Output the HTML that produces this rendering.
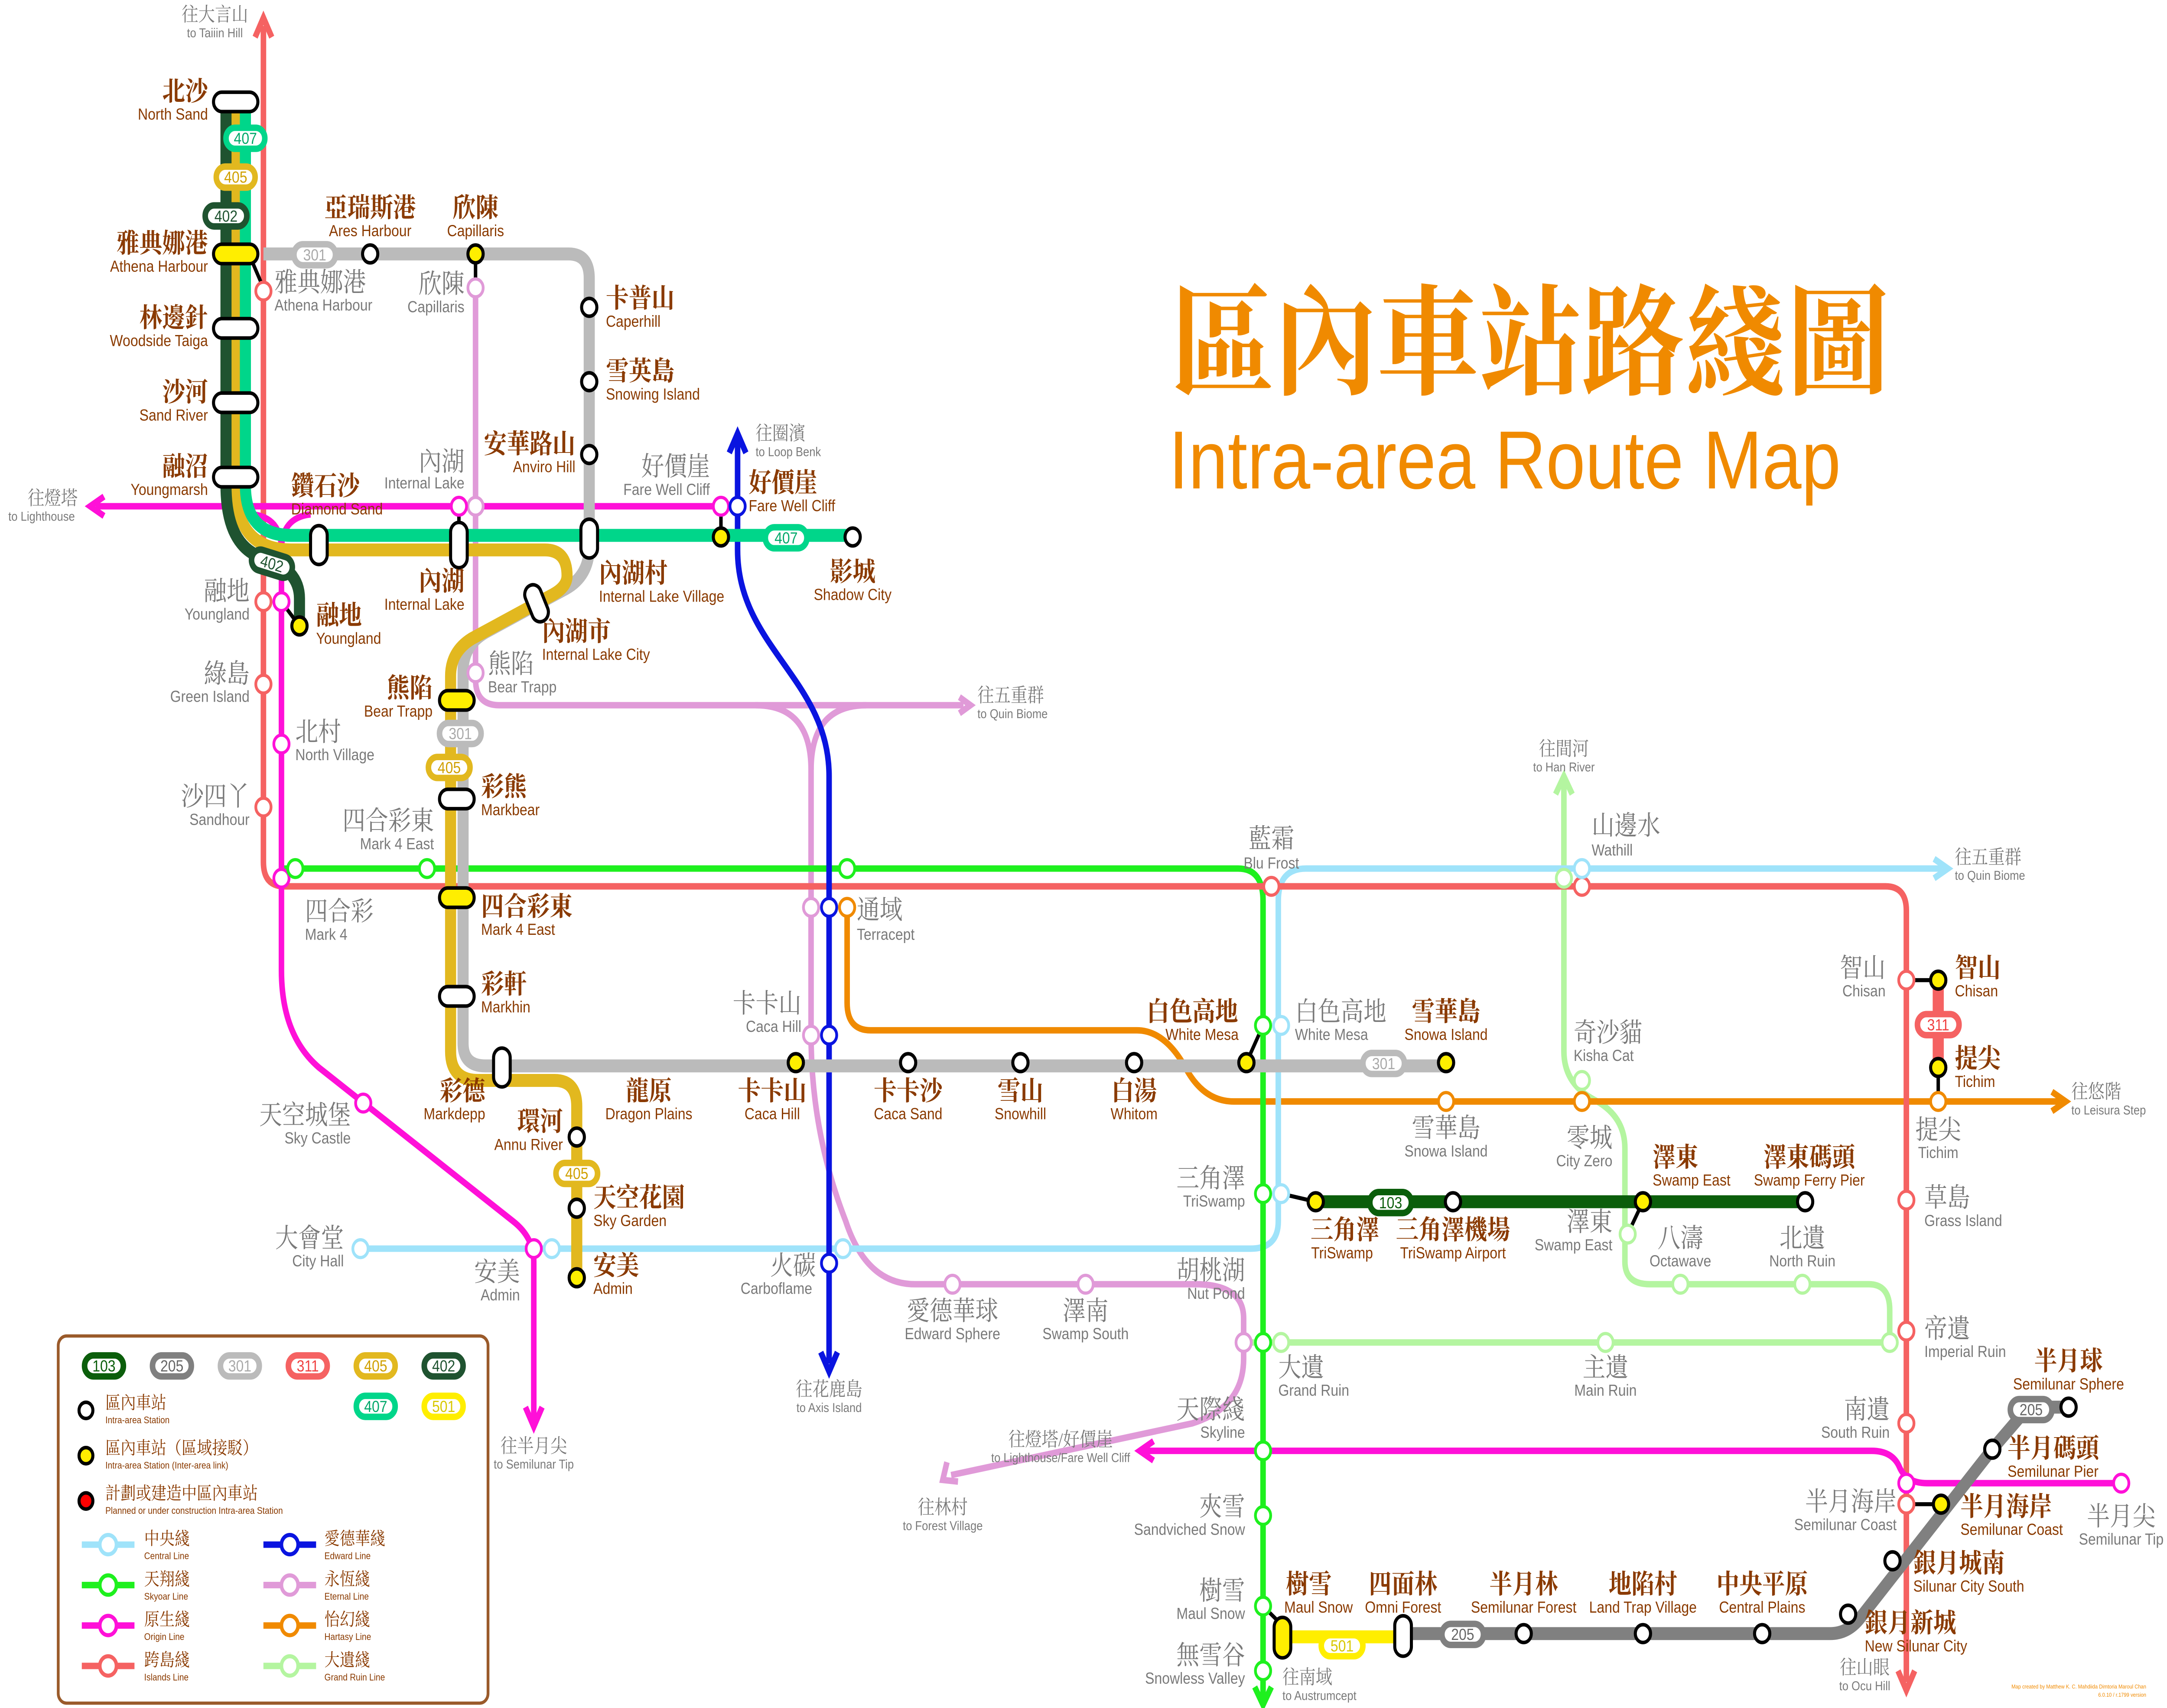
<!DOCTYPE html>
<html><head><meta charset="utf-8"><style>
html,body{margin:0;padding:0;background:#fff;width:100%;height:100%;overflow:hidden}
svg{display:block;position:absolute;left:0;top:0;width:100vw;height:100vh}
.bc{font-family:"Liberation Serif","Noto Serif CJK SC",serif;font-size:16.5px;font-weight:bold;fill:#8a3a00}
.be{font-family:"Liberation Sans",sans-serif;font-size:10px;fill:#8a3a00}
.gc{font-family:"Liberation Serif","Noto Serif CJK SC",serif;font-size:16.5px;fill:#7a7a7a}
.ge{font-family:"Liberation Sans",sans-serif;font-size:10px;fill:#7a7a7a}
.ac{font-family:"Liberation Serif","Noto Serif CJK SC",serif;font-size:12px;fill:#7a7a7a}
.ae{font-family:"Liberation Sans",sans-serif;font-size:8px;fill:#7a7a7a}
.lc{font-family:"Liberation Serif","Noto Serif CJK SC",serif;font-size:11px;fill:#8a3a00}
.le{font-family:"Liberation Sans",sans-serif;font-size:6px;fill:#8a3a00}
.bt{font-family:"Liberation Sans",sans-serif;font-size:10px;text-anchor:middle}
.s{fill:#fff;stroke:#000;stroke-width:2.2}
.y{fill:#ffee00;stroke:#000;stroke-width:2.2}
.p{fill:#fff;stroke:#000;stroke-width:2.2}
.py{fill:#ffee00;stroke:#000;stroke-width:2.2}
.m{text-anchor:middle}.r{text-anchor:end}
path,line{fill:none;stroke-linecap:butt}
</style></head><body>
<svg viewBox="0 0 1563 1056" preserveAspectRatio="none" xmlns="http://www.w3.org/2000/svg">
<rect width="1563" height="1056" fill="#fff"/>

<text x="845" y="238" style="font-family:'Noto Serif CJK SC',serif;font-size:74px;font-weight:bold;fill:#f08a00">區內車站路綫圖</text>
<text x="843" y="302" style="font-family:'Liberation Sans',sans-serif;font-size:51px;fill:#f08a00">Intra-area Route Map</text>

<g stroke-width="4">
<path stroke="#e09ad8" d="M343,178 V420 Q343,436 360,436 H695"/>
<path stroke="#e09ad8" d="M692,431 L700,436 L692,441"/>
<path stroke="#e09ad8" d="M545,436 Q585,436 585,476 V640 Q585,700 610,755 Q625,794 660,794 H862 Q897,794 897,815 V840 Q897,870 860,880 L686,912"/>
<path stroke="#e09ad8" d="M625,436 Q585,436 585,476"/>
<path stroke="#e09ad8" d="M683,904 L680,915 L691,916"/>
<path stroke="#b4f5a0" d="M1128,484 V650 Q1128,670 1150,680 Q1172,690 1172,710 V780 Q1172,794 1190,794 H1348 Q1363,794 1363,810 V830"/>
<path stroke="#b4f5a0" d="M1122,491 L1128,480 L1134,491"/>
<path stroke="#b4f5a0" d="M897,830 H1363"/>
<path stroke="#f08a00" d="M611,561 V620 Q611,637 628,637 H820 Q840,637 855,660 Q868,681 890,681 H1486"/>
<path stroke="#f08a00" d="M1480,675 L1490,681 L1480,687"/>
<path stroke="#9fe3fa" d="M260,772 H902 Q922,772 922,755 V557 Q922,537 942,537 H1401"/>
<path stroke="#9fe3fa" d="M1395,531 L1405,537 L1395,543"/>
<path stroke="#1ef01e" d="M203,537 H893 Q911,537 911,557 V1050"/>
<path stroke="#1ef01e" d="M905,1043 L911,1054 L917,1043"/>
<path stroke="#f56262" d="M190,16 V533 Q190,548 205,548 H1360 Q1375,548 1375,563 V1040"/>
<path stroke="#f56262" d="M184,23 L190,11 L196,23"/>
<path stroke="#f56262" d="M1369,1033 L1375,1045 L1381,1033"/>
<path stroke="#0a14e0" d="M532,272 V340 C532,400 598,420 598,480 V843"/>
<path stroke="#0a14e0" d="M526,280 L532,268 L538,280"/>
<path stroke="#0a14e0" d="M592,836 L598,848 L604,836"/>
<path stroke="#ff10d8" d="M69,313 H520"/>
<path stroke="#ff10d8" d="M75,307 L65,313 L75,319"/>
<path stroke="#ff10d8" d="M182,318 Q203,320 203,340 M224,318 Q203,320 203,340"/>
<path stroke="#ff10d8" d="M203,340 V600 Q203,640 230,660 L370,755 Q385,765 385,780 V878"/>
<path stroke="#ff10d8" d="M379,870 L385,882 L391,870"/>
<path stroke="#ff10d8" d="M824,897 H1350 Q1365,897 1370,907 Q1375,917 1390,917 H1530"/>
<path stroke="#ff10d8" d="M832,891 L822,897 L832,903"/>
</g>

<g stroke-width="8">
<path stroke="#bbbbbb" d="M190,157 H410 Q425,157 425,172 V338 Q425,356 408,364 L350,391 Q334,399 334,415 V645 Q334,659 350,659 H1043"/>
<path stroke="#e2b81f" d="M170,63 V300 Q170,340 210,340 H393 Q409,340 409,356 Q409,363 398,368 L340,395 Q325,403 325,418 V650 Q325,668 345,668 H400 Q416,668 416,684 V790"/>
<path stroke="#1f5330" d="M163,63 V300 Q163,338 190,345 Q216,352 216,370 V387"/>
<path stroke="#00d68a" d="M177,63 V300 Q177,331 210,331 H615"/>
<path stroke="#0b5e0b" d="M949,743 H1302"/>
<path stroke="#808080" d="M1012,1010 H1320 Q1333,1010 1342,1000 L1437,896 L1460,873 Q1465,870 1472,870 H1492"/>
<path stroke="#ffee00" d="M925,1012 H1012"/>
<path stroke="#f56262" d="M1398,606 V660"/>
</g>
<g stroke="#000" stroke-width="2.5">
<line x1="182" y1="162" x2="190" y2="178"/>
<line x1="343" y1="157" x2="343" y2="178"/>
<line x1="331" y1="313" x2="331" y2="337"/>
<line x1="520" y1="313" x2="520" y2="332"/>
<line x1="203" y1="372" x2="216" y2="387"/>
<line x1="899" y1="657" x2="911" y2="634"/>
<line x1="1398" y1="660" x2="1398" y2="681"/>
<line x1="1375" y1="606" x2="1398" y2="606"/>
<line x1="1375" y1="930" x2="1400" y2="930"/>
<line x1="924" y1="738" x2="949" y2="743"/>
<line x1="1174" y1="763" x2="1185" y2="743"/>
<line x1="911" y1="993" x2="925" y2="1005"/>
</g>

<rect class="p" x="154" y="57" width="32" height="12" rx="6"/>
<rect class="py" x="154" y="151" width="32" height="12" rx="6"/>
<rect class="p" x="154" y="197" width="32" height="12" rx="6"/>
<rect class="p" x="154" y="243" width="32" height="12" rx="6"/>
<rect class="p" x="154" y="289" width="32" height="12" rx="6"/>
<rect class="p" x="224" y="325" width="12" height="24" rx="6"/>
<rect class="p" x="325" y="323" width="12" height="28" rx="6"/>
<rect class="p" x="419" y="321" width="12" height="24" rx="6"/>
<rect class="p" x="381" y="361" width="12" height="24" rx="6" transform="rotate(-25 387 373)"/>
<rect class="py" x="317" y="427" width="25" height="12" rx="6"/>
<rect class="p" x="317" y="488" width="25" height="12" rx="6"/>
<rect class="py" x="317" y="549" width="25" height="12" rx="6"/>
<rect class="p" x="317" y="610" width="25" height="12" rx="6"/>
<rect class="p" x="356" y="648" width="12" height="24" rx="6"/>
<rect class="p" x="1006" y="999" width="12" height="25" rx="6"/>
<rect class="py" x="919" y="1000" width="12" height="25" rx="6"/>

<g>
<rect x="163" y="79" width="28" height="13" rx="6.5" fill="#fff" stroke="#00d68a" stroke-width="4"/><text class="bt" x="177" y="89" fill="#00a86a">407</text>
<rect x="156" y="103" width="28" height="13" rx="6.5" fill="#fff" stroke="#e2b81f" stroke-width="4"/><text class="bt" x="170" y="113" fill="#d0a000">405</text>
<rect x="148" y="127" width="30" height="13" rx="6.5" fill="#fff" stroke="#1f5330" stroke-width="4"/><text class="bt" x="163" y="137" fill="#1f5330">402</text>
<rect x="212" y="151" width="30" height="13" rx="6.5" fill="#fff" stroke="#bbb" stroke-width="4"/><text class="bt" x="227" y="161" fill="#aaa">301</text>
<g transform="rotate(15 196 349)"><rect x="181" y="342" width="30" height="13" rx="6.5" fill="#fff" stroke="#1f5330" stroke-width="4"/><text class="bt" x="196" y="352" fill="#1f5330">402</text></g>
<rect x="552" y="326" width="30" height="13" rx="6.5" fill="#fff" stroke="#00d68a" stroke-width="4"/><text class="bt" x="567" y="336" fill="#00a86a">407</text>
<rect x="317" y="447" width="30" height="13" rx="6.5" fill="#fff" stroke="#bbb" stroke-width="4"/><text class="bt" x="332" y="457" fill="#aaa">301</text>
<rect x="309" y="468" width="30" height="13" rx="6.5" fill="#fff" stroke="#e2b81f" stroke-width="4"/><text class="bt" x="324" y="478" fill="#d0a000">405</text>
<rect x="401" y="719" width="30" height="13" rx="6.5" fill="#fff" stroke="#e2b81f" stroke-width="4"/><text class="bt" x="416" y="729" fill="#d0a000">405</text>
<rect x="983" y="651" width="30" height="13" rx="6.5" fill="#fff" stroke="#bbb" stroke-width="4"/><text class="bt" x="998" y="661" fill="#aaa">301</text>
<rect x="988" y="737" width="30" height="13" rx="6.5" fill="#fff" stroke="#0b5e0b" stroke-width="4"/><text class="bt" x="1003" y="747" fill="#0b5e0b">103</text>
<rect x="1383" y="627" width="30" height="13" rx="6.5" fill="#fff" stroke="#f56262" stroke-width="4"/><text class="bt" x="1398" y="637" fill="#f04040">311</text>
<rect x="1450" y="865" width="30" height="13" rx="6.5" fill="#fff" stroke="#808080" stroke-width="4"/><text class="bt" x="1465" y="875" fill="#666">205</text>
<rect x="1040" y="1004" width="30" height="13" rx="6.5" fill="#fff" stroke="#808080" stroke-width="4"/><text class="bt" x="1055" y="1014" fill="#666">205</text>
<rect x="953" y="1011" width="30" height="13" rx="6.5" fill="#fff" stroke="#ffee00" stroke-width="4"/><text class="bt" x="968" y="1021" fill="#d8c800">501</text>
</g>

<g>
<circle class="s" cx="267" cy="157" r="5.5"/><circle class="y" cx="343" cy="157" r="5.5"/>
<circle class="s" cx="425" cy="190" r="5.5"/><circle class="s" cx="425" cy="236" r="5.5"/><circle class="s" cx="425" cy="281" r="5.5"/>
<circle class="y" cx="520" cy="332" r="5.5"/><circle class="s" cx="615" cy="332" r="5.5"/>
<circle class="y" cx="216" cy="387" r="5.5"/>
<circle class="s" cx="416" cy="703" r="5.5"/><circle class="s" cx="416" cy="747" r="5.5"/><circle class="y" cx="416" cy="790" r="5.5"/>
<circle class="y" cx="574" cy="657" r="5.5"/><circle class="s" cx="655" cy="657" r="5.5"/><circle class="s" cx="736" cy="657" r="5.5"/><circle class="s" cx="818" cy="657" r="5.5"/>
<circle class="y" cx="899" cy="657" r="5.5"/><circle class="y" cx="1043" cy="657" r="5.5"/>
<circle class="y" cx="949" cy="743" r="5.5"/><circle class="s" cx="1048" cy="743" r="5.5"/><circle class="y" cx="1185" cy="743" r="5.5"/><circle class="s" cx="1302" cy="743" r="5.5"/>
<circle class="y" cx="1398" cy="606" r="5.5"/><circle class="y" cx="1398" cy="660" r="5.5"/>
<circle class="s" cx="1492" cy="870" r="5.5"/><circle class="s" cx="1437" cy="896" r="5.5"/><circle class="y" cx="1400" cy="930" r="5.5"/>
<circle class="s" cx="1365" cy="965" r="5.5"/><circle class="s" cx="1333" cy="998" r="5.5"/>
<circle class="s" cx="1099" cy="1010" r="5.5"/><circle class="s" cx="1185" cy="1010" r="5.5"/><circle class="s" cx="1271" cy="1010" r="5.5"/>
</g>
<g fill="#fff" stroke-width="2">
<g stroke="#f56262"><circle cx="190" cy="180" r="5.5"/><circle cx="190" cy="372" r="5.5"/><circle cx="190" cy="423" r="5.5"/><circle cx="190" cy="499" r="5.5"/><circle cx="917" cy="548" r="5.5"/><circle cx="1141" cy="548" r="5.5"/><circle cx="1375" cy="606" r="5.5"/><circle cx="1375" cy="742" r="5.5"/><circle cx="1375" cy="823" r="5.5"/><circle cx="1375" cy="880" r="5.5"/><circle cx="1375" cy="930" r="5.5"/></g>
<g stroke="#e09ad8"><circle cx="343" cy="178" r="5.5"/><circle cx="343" cy="313" r="5.5"/><circle cx="343" cy="416" r="5.5"/><circle cx="585" cy="561" r="5.5"/><circle cx="585" cy="640" r="5.5"/><circle cx="687" cy="794" r="5.5"/><circle cx="783" cy="794" r="5.5"/><circle cx="897" cy="830" r="5.5"/></g>
<g stroke="#ff10d8"><circle cx="331" cy="313" r="5.5"/><circle cx="520" cy="313" r="5.5"/><circle cx="203" cy="372" r="5.5"/><circle cx="203" cy="460" r="5.5"/><circle cx="203" cy="543" r="5.5"/><circle cx="262" cy="682" r="5.5"/><circle cx="385" cy="772" r="5.5"/><circle cx="1375" cy="917" r="5.5"/><circle cx="1530" cy="917" r="5.5"/></g>
<g stroke="#0a14e0"><circle cx="532" cy="313" r="5.5"/><circle cx="598" cy="561" r="5.5"/><circle cx="598" cy="640" r="5.5"/><circle cx="598" cy="781" r="5.5"/></g>
<g stroke="#1ef01e"><circle cx="213" cy="537" r="5.5"/><circle cx="308" cy="537" r="5.5"/><circle cx="611" cy="537" r="5.5"/><circle cx="911" cy="634" r="5.5"/><circle cx="911" cy="738" r="5.5"/><circle cx="911" cy="830" r="5.5"/><circle cx="911" cy="897" r="5.5"/><circle cx="911" cy="937" r="5.5"/><circle cx="911" cy="993" r="5.5"/><circle cx="911" cy="1033" r="5.5"/></g>
<g stroke="#f08a00"><circle cx="611" cy="561" r="5.5"/><circle cx="1043" cy="681" r="5.5"/><circle cx="1141" cy="681" r="5.5"/><circle cx="1398" cy="681" r="5.5"/></g>
<g stroke="#9fe3fa"><circle cx="260" cy="772" r="5.5"/><circle cx="398" cy="772" r="5.5"/><circle cx="608" cy="772" r="5.5"/><circle cx="924" cy="634" r="5.5"/><circle cx="924" cy="738" r="5.5"/><circle cx="1141" cy="537" r="5.5"/></g>
<g stroke="#b4f5a0"><circle cx="1128" cy="543" r="5.5"/><circle cx="1141" cy="668" r="5.5"/><circle cx="1174" cy="763" r="5.5"/><circle cx="1212" cy="794" r="5.5"/><circle cx="1300" cy="794" r="5.5"/><circle cx="924" cy="830" r="5.5"/><circle cx="1158" cy="830" r="5.5"/><circle cx="1363" cy="830" r="5.5"/></g>
</g>

<g>
<text class="bc r" x="150" y="62">北沙</text><text class="be r" x="150" y="74">North Sand</text>
<text class="bc r" x="150" y="156">雅典娜港</text><text class="be r" x="150" y="168">Athena Harbour</text>
<text class="bc r" x="150" y="202">林邊針</text><text class="be r" x="150" y="214">Woodside Taiga</text>
<text class="bc r" x="150" y="248">沙河</text><text class="be r" x="150" y="260">Sand River</text>
<text class="bc r" x="150" y="294">融沼</text><text class="be r" x="150" y="306">Youngmarsh</text>
<text class="bc m" x="267" y="134">亞瑞斯港</text><text class="be m" x="267" y="146">Ares Harbour</text>
<text class="bc m" x="343" y="134">欣陳</text><text class="be m" x="343" y="146">Capillaris</text>
<text class="bc" x="437" y="190">卡普山</text><text class="be" x="437" y="202">Caperhill</text>
<text class="bc" x="437" y="235">雪英島</text><text class="be" x="437" y="247">Snowing Island</text>
<text class="bc r" x="415" y="280">安華路山</text><text class="be r" x="415" y="292">Anviro Hill</text>
<text class="bc" x="210" y="306">鑽石沙</text><text class="be" x="210" y="318">Diamond Sand</text>
<text class="bc r" x="335" y="365">內湖</text><text class="be r" x="335" y="377">Internal Lake</text>
<text class="bc" x="432" y="360">內湖村</text><text class="be" x="432" y="372">Internal Lake Village</text>
<text class="bc" x="391" y="396">內湖市</text><text class="be" x="391" y="408">Internal Lake City</text>
<text class="bc" x="540" y="304">好價崖</text><text class="be" x="540" y="316">Fare Well Cliff</text>
<text class="bc m" x="615" y="359">影城</text><text class="be m" x="615" y="371">Shadow City</text>
<text class="bc" x="228" y="386">融地</text><text class="be" x="228" y="398">Youngland</text>
<text class="bc r" x="312" y="431">熊陷</text><text class="be r" x="312" y="443">Bear Trapp</text>
<text class="bc" x="347" y="492">彩熊</text><text class="be" x="347" y="504">Markbear</text>
<text class="bc" x="347" y="566">四合彩東</text><text class="be" x="347" y="578">Mark 4 East</text>
<text class="bc" x="347" y="614">彩軒</text><text class="be" x="347" y="626">Markhin</text>
<text class="bc r" x="350" y="680">彩德</text><text class="be r" x="350" y="692">Markdepp</text>
<text class="bc r" x="406" y="699">環河</text><text class="be r" x="406" y="711">Annu River</text>
<text class="bc" x="428" y="746">天空花園</text><text class="be" x="428" y="758">Sky Garden</text>
<text class="bc" x="428" y="788">安美</text><text class="be" x="428" y="800">Admin</text>
<text class="bc m" x="468" y="680">龍原</text><text class="be m" x="468" y="692">Dragon Plains</text>
<text class="bc m" x="557" y="680">卡卡山</text><text class="be m" x="557" y="692">Caca Hill</text>
<text class="bc m" x="655" y="680">卡卡沙</text><text class="be m" x="655" y="692">Caca Sand</text>
<text class="bc m" x="736" y="680">雪山</text><text class="be m" x="736" y="692">Snowhill</text>
<text class="bc m" x="818" y="680">白湯</text><text class="be m" x="818" y="692">Whitom</text>
<text class="bc m" x="860" y="631">白色高地</text><text class="be m" x="867" y="643">White Mesa</text>
<text class="bc m" x="1043" y="631">雪華島</text><text class="be m" x="1043" y="643">Snowa Island</text>
<text class="bc m" x="970" y="766">三角澤</text><text class="be m" x="968" y="778">TriSwamp</text>
<text class="bc m" x="1048" y="766">三角澤機場</text><text class="be m" x="1048" y="778">TriSwamp Airport</text>
<text class="bc" x="1192" y="721">澤東</text><text class="be" x="1192" y="733">Swamp East</text>
<text class="bc m" x="1305" y="721">澤東碼頭</text><text class="be m" x="1305" y="733">Swamp Ferry Pier</text>
<text class="bc" x="1410" y="604">智山</text><text class="be" x="1410" y="616">Chisan</text>
<text class="bc" x="1410" y="660">提尖</text><text class="be" x="1410" y="672">Tichim</text>
<text class="bc m" x="1492" y="847">半月球</text><text class="be m" x="1492" y="859">Semilunar Sphere</text>
<text class="bc" x="1448" y="901">半月碼頭</text><text class="be" x="1448" y="913">Semilunar Pier</text>
<text class="bc" x="1414" y="937">半月海岸</text><text class="be" x="1414" y="949">Semilunar Coast</text>
<text class="bc" x="1380" y="972">銀月城南</text><text class="be" x="1380" y="984">Silunar City South</text>
<text class="bc" x="1345" y="1009">銀月新城</text><text class="be" x="1345" y="1021">New Silunar City</text>
<text class="bc m" x="1099" y="985">半月林</text><text class="be m" x="1099" y="997">Semilunar Forest</text>
<text class="bc m" x="1185" y="985">地陷村</text><text class="be m" x="1185" y="997">Land Trap Village</text>
<text class="bc m" x="1271" y="985">中央平原</text><text class="be m" x="1271" y="997">Central Plains</text>
<text class="bc m" x="1012" y="985">四面林</text><text class="be m" x="1012" y="997">Omni Forest</text>
<text class="bc m" x="944" y="985">樹雪</text><text class="be m" x="951" y="997">Maul Snow</text>
</g>
<g>
<text class="gc" x="198" y="180">雅典娜港</text><text class="ge" x="198" y="192">Athena Harbour</text>
<text class="gc r" x="335" y="181">欣陳</text><text class="ge r" x="335" y="193">Capillaris</text>
<text class="gc r" x="335" y="291">內湖</text><text class="ge r" x="335" y="302">Internal Lake</text>
<text class="gc r" x="512" y="294">好價崖</text><text class="ge r" x="512" y="306">Fare Well Cliff</text>
<text class="gc r" x="180" y="371">融地</text><text class="ge r" x="180" y="383">Youngland</text>
<text class="gc r" x="180" y="422">綠島</text><text class="ge r" x="180" y="434">Green Island</text>
<text class="gc" x="213" y="458">北村</text><text class="ge" x="213" y="470">North Village</text>
<text class="gc r" x="180" y="498">沙四丫</text><text class="ge r" x="180" y="510">Sandhour</text>
<text class="gc" x="352" y="416">熊陷</text><text class="ge" x="352" y="428">Bear Trapp</text>
<text class="gc r" x="313" y="513">四合彩東</text><text class="ge r" x="313" y="525">Mark 4 East</text>
<text class="gc" x="220" y="569">四合彩</text><text class="ge" x="220" y="581">Mark 4</text>
<text class="gc r" x="253" y="695">天空城堡</text><text class="ge r" x="253" y="707">Sky Castle</text>
<text class="gc r" x="248" y="771">大會堂</text><text class="ge r" x="248" y="783">City Hall</text>
<text class="gc r" x="375" y="792">安美</text><text class="ge r" x="375" y="804">Admin</text>
<text class="gc" x="618" y="568">通域</text><text class="ge" x="618" y="581">Terracept</text>
<text class="gc r" x="578" y="626">卡卡山</text><text class="ge r" x="578" y="638">Caca Hill</text>
<text class="gc m" x="572" y="788">火碳</text><text class="ge m" x="560" y="800">Carboflame</text>
<text class="gc m" x="687" y="816">愛德華球</text><text class="ge m" x="687" y="828">Edward Sphere</text>
<text class="gc m" x="783" y="816">澤南</text><text class="ge m" x="783" y="828">Swamp South</text>
<text class="gc m" x="917" y="524">藍霜</text><text class="ge m" x="917" y="537">Blu Frost</text>
<text class="gc" x="934" y="631">白色高地</text><text class="ge" x="934" y="643">White Mesa</text>
<text class="gc m" x="1043" y="703">雪華島</text><text class="ge m" x="1043" y="715">Snowa Island</text>
<text class="gc" x="1148" y="516">山邊水</text><text class="ge" x="1148" y="529">Wathill</text>
<text class="gc" x="1135" y="644">奇沙貓</text><text class="ge" x="1135" y="656">Kisha Cat</text>
<text class="gc r" x="1163" y="709">零城</text><text class="ge r" x="1163" y="721">City Zero</text>
<text class="gc r" x="1163" y="761">澤東</text><text class="ge r" x="1163" y="773">Swamp East</text>
<text class="gc r" x="898" y="734">三角澤</text><text class="ge r" x="898" y="746">TriSwamp</text>
<text class="gc m" x="1212" y="771">八濤</text><text class="ge m" x="1212" y="783">Octawave</text>
<text class="gc m" x="1300" y="771">北遺</text><text class="ge m" x="1300" y="783">North Ruin</text>
<text class="gc r" x="1360" y="604">智山</text><text class="ge r" x="1360" y="616">Chisan</text>
<text class="gc m" x="1398" y="704">提尖</text><text class="ge m" x="1398" y="716">Tichim</text>
<text class="gc" x="1388" y="746">草島</text><text class="ge" x="1388" y="758">Grass Island</text>
<text class="gc" x="1388" y="827">帝遺</text><text class="ge" x="1388" y="839">Imperial Ruin</text>
<text class="gc r" x="898" y="791">胡桃湖</text><text class="ge r" x="898" y="803">Nut Pond</text>
<text class="gc" x="922" y="851">大遺</text><text class="ge" x="922" y="863">Grand Ruin</text>
<text class="gc m" x="1158" y="851">主遺</text><text class="ge m" x="1158" y="863">Main Ruin</text>
<text class="gc r" x="898" y="877">天際綫</text><text class="ge r" x="898" y="889">Skyline</text>
<text class="gc r" x="898" y="937">夾雪</text><text class="ge r" x="898" y="949">Sandviched Snow</text>
<text class="gc r" x="1363" y="877">南遺</text><text class="ge r" x="1363" y="889">South Ruin</text>
<text class="gc r" x="1368" y="934">半月海岸</text><text class="ge r" x="1368" y="946">Semilunar Coast</text>
<text class="gc m" x="1530" y="943">半月尖</text><text class="ge m" x="1530" y="955">Semilunar Tip</text>
<text class="gc r" x="898" y="989">樹雪</text><text class="ge r" x="898" y="1001">Maul Snow</text>
<text class="gc r" x="898" y="1029">無雪谷</text><text class="ge r" x="898" y="1041">Snowless Valley</text>
</g>
<g>
<text class="ac m" x="155" y="13">往大言山</text><text class="ae m" x="155" y="23">to Taiiin Hill</text>
<text class="ac m" x="38" y="312">往燈塔</text><text class="ae m" x="30" y="322">to Lighthouse</text>
<text class="ac" x="545" y="272">往圈濱</text><text class="ae" x="545" y="282">to Loop Benk</text>
<text class="ac" x="705" y="434">往五重群</text><text class="ae" x="705" y="444">to Quin Biome</text>
<text class="ac m" x="1128" y="467">往間河</text><text class="ae m" x="1128" y="477">to Han River</text>
<text class="ac" x="1410" y="534">往五重群</text><text class="ae" x="1410" y="544">to Quin Biome</text>
<text class="ac" x="1494" y="679">往悠階</text><text class="ae" x="1494" y="689">to Leisura Step</text>
<text class="ac m" x="385" y="898">往半月尖</text><text class="ae m" x="385" y="908">to Semilunar Tip</text>
<text class="ac m" x="598" y="863">往花鹿島</text><text class="ae m" x="598" y="873">to Axis Island</text>
<text class="ac m" x="765" y="894">往燈塔/好價崖</text><text class="ae m" x="765" y="904">to Lighthouse/Fare Well Cliff</text>
<text class="ac m" x="680" y="936">往林村</text><text class="ae m" x="680" y="946">to Forest Village</text>
<text class="ac" x="925" y="1041">往南域</text><text class="ae" x="925" y="1051">to Austrumcept</text>
<text class="ac m" x="1345" y="1035">往山眼</text><text class="ae m" x="1345" y="1045">to Ocu Hill</text>
<text x="1548" y="1044" style="font-family:'Liberation Sans',sans-serif;font-size:3.5px;fill:#f08a00;text-anchor:end">Map created by Matthew K. C. Mahdiida Dimtoria Maroul Chan</text>
<text x="1548" y="1049" style="font-family:'Liberation Sans',sans-serif;font-size:3.5px;fill:#f08a00;text-anchor:end">6.0.10 / r.1799 version</text>
</g>

<rect x="42" y="826" width="310" height="227" rx="6" fill="#fff" stroke="#9a5a2a" stroke-width="2"/>
<g>
<rect x="61" y="838" width="28" height="13" rx="6.5" fill="#fff" stroke="#0b5e0b" stroke-width="4"/><text class="bt" x="75" y="848" fill="#0b5e0b">103</text>
<rect x="110" y="838" width="28" height="13" rx="6.5" fill="#fff" stroke="#808080" stroke-width="4"/><text class="bt" x="124" y="848" fill="#666">205</text>
<rect x="159" y="838" width="28" height="13" rx="6.5" fill="#fff" stroke="#bbb" stroke-width="4"/><text class="bt" x="173" y="848" fill="#aaa">301</text>
<rect x="208" y="838" width="28" height="13" rx="6.5" fill="#fff" stroke="#f56262" stroke-width="4"/><text class="bt" x="222" y="848" fill="#f04040">311</text>
<rect x="257" y="838" width="28" height="13" rx="6.5" fill="#fff" stroke="#e2b81f" stroke-width="4"/><text class="bt" x="271" y="848" fill="#d0a000">405</text>
<rect x="306" y="838" width="28" height="13" rx="6.5" fill="#fff" stroke="#1f5330" stroke-width="4"/><text class="bt" x="320" y="848" fill="#1f5330">402</text>
<rect x="257" y="863" width="28" height="13" rx="6.5" fill="#fff" stroke="#00d68a" stroke-width="4"/><text class="bt" x="271" y="873" fill="#00a86a">407</text>
<rect x="306" y="863" width="28" height="13" rx="6.5" fill="#fff" stroke="#ffee00" stroke-width="4"/><text class="bt" x="320" y="873" fill="#d8c800">501</text>
<circle class="s" cx="62" cy="872" r="5"/><text class="lc" x="76" y="871">區內車站</text><text class="le" x="76" y="880">Intra-area Station</text>
<circle class="y" cx="62" cy="900" r="5"/><text class="lc" x="76" y="899">區內車站（區域接駁）</text><text class="le" x="76" y="908">Intra-area Station (Inter-area link)</text>
<circle cx="62" cy="928" r="5" fill="#f00" stroke="#000" stroke-width="2.2"/><text class="lc" x="76" y="927">計劃或建造中區內車站</text><text class="le" x="76" y="936">Planned or under construction Intra-area Station</text>
<g stroke-width="4" fill="#fff">
<line x1="59" y1="955" x2="97" y2="955" stroke="#9fe3fa"/><circle cx="78" cy="955" r="6" stroke="#9fe3fa" stroke-width="2.5"/>
<line x1="59" y1="980" x2="97" y2="980" stroke="#1ef01e"/><circle cx="78" cy="980" r="6" stroke="#1ef01e" stroke-width="2.5"/>
<line x1="59" y1="1005" x2="97" y2="1005" stroke="#ff10d8"/><circle cx="78" cy="1005" r="6" stroke="#ff10d8" stroke-width="2.5"/>
<line x1="59" y1="1030" x2="97" y2="1030" stroke="#f56262"/><circle cx="78" cy="1030" r="6" stroke="#f56262" stroke-width="2.5"/>
<line x1="190" y1="955" x2="228" y2="955" stroke="#0a14e0"/><circle cx="209" cy="955" r="6" stroke="#0a14e0" stroke-width="2.5"/>
<line x1="190" y1="980" x2="228" y2="980" stroke="#e09ad8"/><circle cx="209" cy="980" r="6" stroke="#e09ad8" stroke-width="2.5"/>
<line x1="190" y1="1005" x2="228" y2="1005" stroke="#f08a00"/><circle cx="209" cy="1005" r="6" stroke="#f08a00" stroke-width="2.5"/>
<line x1="190" y1="1030" x2="228" y2="1030" stroke="#b4f5a0"/><circle cx="209" cy="1030" r="6" stroke="#b4f5a0" stroke-width="2.5"/>
</g>
<text class="lc" x="104" y="955">中央綫</text><text class="le" x="104" y="964">Central Line</text>
<text class="lc" x="104" y="980">天翔綫</text><text class="le" x="104" y="989">Skyoar Line</text>
<text class="lc" x="104" y="1005">原生綫</text><text class="le" x="104" y="1014">Origin Line</text>
<text class="lc" x="104" y="1030">跨島綫</text><text class="le" x="104" y="1039">Islands Line</text>
<text class="lc" x="234" y="955">愛德華綫</text><text class="le" x="234" y="964">Edward Line</text>
<text class="lc" x="234" y="980">永恆綫</text><text class="le" x="234" y="989">Eternal Line</text>
<text class="lc" x="234" y="1005">怡幻綫</text><text class="le" x="234" y="1014">Hartasy Line</text>
<text class="lc" x="234" y="1030">大遺綫</text><text class="le" x="234" y="1039">Grand Ruin Line</text>
</g>
</svg>
</body></html>
